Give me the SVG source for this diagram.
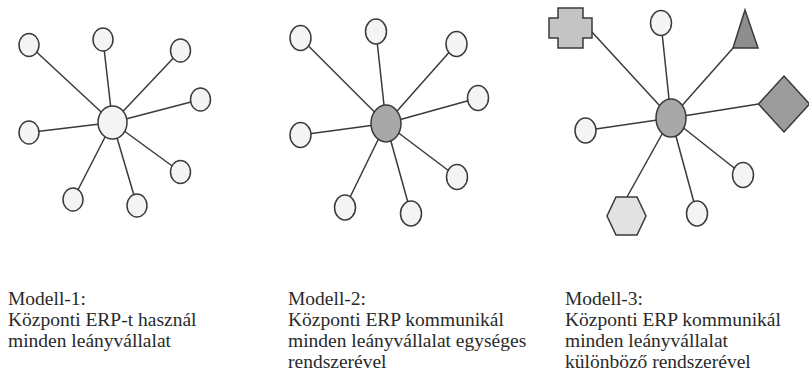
<svg xmlns="http://www.w3.org/2000/svg" width="809" height="376" viewBox="0 0 809 376">
<style>
.bg{fill:#ffffff}
.n{fill:#f4f4f4;stroke:#3a3a3a;stroke-width:1.5}
.hub1{fill:#f4f4f4;stroke:#3a3a3a;stroke-width:1.5}
.hub{fill:#a8a8a8;stroke:#3a3a3a;stroke-width:1.5}
.cross{fill:#c4c4c4;stroke:#3a3a3a;stroke-width:1.5}
.tri{fill:#8e8e8e;stroke:#3a3a3a;stroke-width:1.5}
.dia{fill:#9c9c9c;stroke:#3a3a3a;stroke-width:1.5}
.hex{fill:#e2e2e2;stroke:#3a3a3a;stroke-width:1.5}
.c line{stroke:#3a3a3a;stroke-width:1.5}
text{font-family:"Liberation Serif","Times New Roman",serif;font-size:19.5px;fill:#2a2a2a}
</style>
<rect class="bg" x="0" y="0" width="809" height="376"/>
<g id="connectors" class="c">
<line x1="112.5" y1="122.5" x2="29" y2="45"/>
<line x1="112.5" y1="122.5" x2="103" y2="39.5"/>
<line x1="112.5" y1="122.5" x2="180.5" y2="50.5"/>
<line x1="112.5" y1="122.5" x2="200.5" y2="99.5"/>
<line x1="112.5" y1="122.5" x2="29" y2="132.5"/>
<line x1="112.5" y1="122.5" x2="180.5" y2="172"/>
<line x1="112.5" y1="122.5" x2="137" y2="205.5"/>
<line x1="112.5" y1="122.5" x2="73" y2="199.5"/>
<line x1="386" y1="123.5" x2="300.5" y2="38"/>
<line x1="386" y1="123.5" x2="376" y2="31.5"/>
<line x1="386" y1="123.5" x2="456.5" y2="44"/>
<line x1="386" y1="123.5" x2="478" y2="98"/>
<line x1="386" y1="123.5" x2="300.5" y2="135"/>
<line x1="386" y1="123.5" x2="457" y2="177"/>
<line x1="386" y1="123.5" x2="411" y2="213.5"/>
<line x1="386" y1="123.5" x2="345" y2="207.5"/>
<line x1="671" y1="118" x2="591" y2="31"/>
<line x1="671" y1="118" x2="661" y2="23"/>
<line x1="671" y1="118" x2="733.5" y2="47.5"/>
<line x1="671" y1="118" x2="758.5" y2="104"/>
<line x1="671" y1="118" x2="585.5" y2="130.5"/>
<line x1="671" y1="118" x2="743" y2="175"/>
<line x1="671" y1="118" x2="697" y2="213.5"/>
<line x1="671" y1="118" x2="627" y2="197"/>
</g>
<g id="m1-hub"><ellipse class="hub1" cx="112.5" cy="122.5" rx="14.5" ry="16.5"/></g>
<g id="m1-n1"><ellipse class="n" cx="29" cy="45" rx="10" ry="11.5"/></g>
<g id="m1-n2"><ellipse class="n" cx="103" cy="39.5" rx="10" ry="11.5"/></g>
<g id="m1-n3"><ellipse class="n" cx="180.5" cy="50.5" rx="10" ry="11.5"/></g>
<g id="m1-n4"><ellipse class="n" cx="200.5" cy="99.5" rx="10" ry="11.5"/></g>
<g id="m1-n5"><ellipse class="n" cx="29" cy="132.5" rx="10" ry="11.5"/></g>
<g id="m1-n6"><ellipse class="n" cx="180.5" cy="172" rx="10" ry="11.5"/></g>
<g id="m1-n7"><ellipse class="n" cx="137" cy="205.5" rx="10" ry="11.5"/></g>
<g id="m1-n8"><ellipse class="n" cx="73" cy="199.5" rx="10" ry="11.5"/></g>

<g id="m2-hub"><ellipse class="hub" cx="386" cy="123.5" rx="15" ry="18.5"/></g>
<g id="m2-n1"><ellipse class="n" cx="300.5" cy="38" rx="10.5" ry="12.5"/></g>
<g id="m2-n2"><ellipse class="n" cx="376" cy="31.5" rx="10.5" ry="12.5"/></g>
<g id="m2-n3"><ellipse class="n" cx="456.5" cy="44" rx="10.5" ry="12.5"/></g>
<g id="m2-n4"><ellipse class="n" cx="478" cy="98" rx="10.5" ry="12.5"/></g>
<g id="m2-n5"><ellipse class="n" cx="300.5" cy="135" rx="10.5" ry="12.5"/></g>
<g id="m2-n6"><ellipse class="n" cx="457" cy="177" rx="10.5" ry="12.5"/></g>
<g id="m2-n7"><ellipse class="n" cx="411" cy="213.5" rx="10.5" ry="12.5"/></g>
<g id="m2-n8"><ellipse class="n" cx="345" cy="207.5" rx="10.5" ry="12.5"/></g>

<g id="m3-hub"><ellipse class="hub" cx="671" cy="118" rx="15" ry="19"/></g>
<g id="m3-cross"><polygon class="cross" points="558,8 583,8 583,18 592,18 592,38 583,38 583,48 558,48 558,38 549,38 549,18 558,18"/></g>
<g id="m3-n2"><ellipse class="n" cx="661" cy="23" rx="10.5" ry="12.5"/></g>
<g id="m3-triangle"><polygon class="tri" points="745,10 758,48 733,48"/></g>
<g id="m3-diamond"><polygon class="dia" points="758.5,104 784,76 809.5,104 784,132"/></g>
<g id="m3-n5"><ellipse class="n" cx="585.5" cy="130.5" rx="10.5" ry="12.5"/></g>
<g id="m3-n6"><ellipse class="n" cx="743" cy="175" rx="10.5" ry="12.5"/></g>
<g id="m3-n7"><ellipse class="n" cx="697" cy="213.5" rx="10.5" ry="12.5"/></g>
<g id="m3-hexagon"><polygon class="hex" points="616,197 637,197 646,216 637,235 616,235 607,216"/></g>

<g id="caption-1">
<text x="8" y="305">Modell-1:</text>
<text x="8" y="326">Központi ERP-t használ</text>
<text x="8" y="347">minden leányvállalat</text>
</g>
<g id="caption-2">
<text x="288" y="305">Modell-2:</text>
<text x="288" y="326">Központi ERP kommunikál</text>
<text x="288" y="347">minden leányvállalat egységes</text>
<text x="288" y="368">rendszerével</text>
</g>
<g id="caption-3">
<text x="565" y="305">Modell-3:</text>
<text x="565" y="326">Központi ERP kommunikál</text>
<text x="565" y="347">minden leányvállalat</text>
<text x="565" y="368">különböző rendszerével</text>
</g>
</svg>
